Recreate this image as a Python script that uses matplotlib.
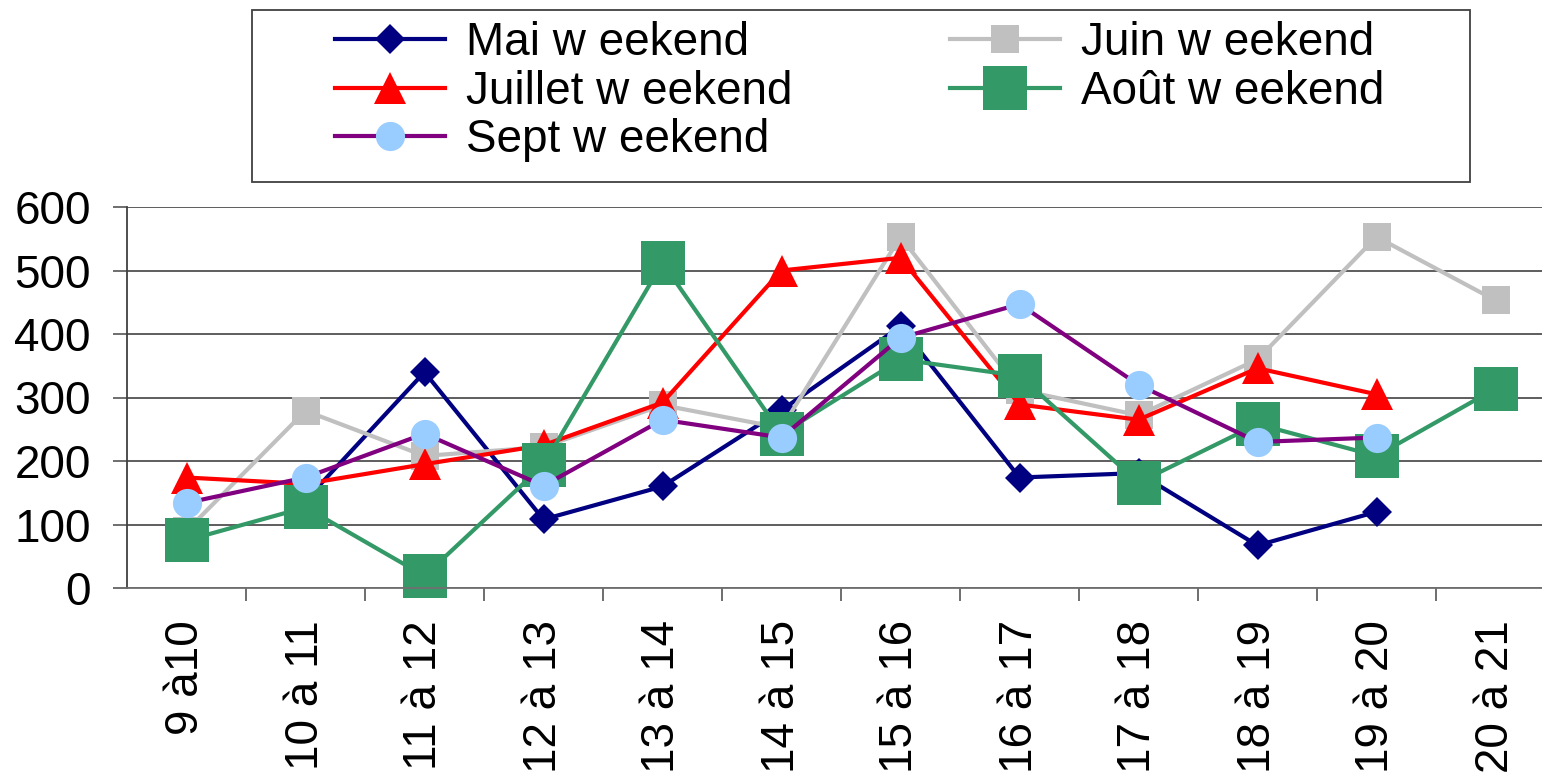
import numpy as np
import matplotlib
matplotlib.use("Agg")
import matplotlib.pyplot as plt
from matplotlib.patches import Rectangle

plt.rcParams['font.family'] = ['Liberation Sans', 'DejaVu Sans']

# tranches horaires
heures = ["9 à10", "10 à 11", "11 à 12", "12 à 13", "13 à 14", "14 à 15",
          "15 à 16", "16 à 17", "17 à 18", "18 à 19", "19 à 20", "20 à 21"]

nan = np.nan
mai = [nan, 138, 340, 108, 160, 280, 412, 174, 181, 67, 120, nan]
juin = [90, 279, 208, 222, 288, 252, 553, 312, 272, 360, 553, 453]
juillet = [174, 164, 195, 225, 292, 500, 520, 289, 265, 346, 305, nan]
aout = [75, 127, 19, 194, 512, 243, 360, 334, 166, 258, 208, 314]
sept = [134, 174, 243, 161, 265, 237, 394, 447, 320, 230, 237, nan]

W, H = 1542, 775
fig = plt.figure(figsize=(W / 100, H / 100), dpi=100)
# la zone de tracé déborde un peu à droite comme dans l'original
ax = fig.add_axes([127 / W, 1 - 588 / H, (1555 - 127) / W, (588 - 207) / H])

x = np.arange(len(heures))
l1, = ax.plot(x, mai, color='#000080', lw=3, marker='D', ms=15, mew=0,
              label='Mai w eekend')
l2, = ax.plot(x, juin, color='#C0C0C0', lw=3, marker='s', ms=20, mew=0,
              label='Juin w eekend')
l3, = ax.plot(x, juillet, color='#FF0000', lw=3, marker='^', ms=23, mew=0,
              label='Juillet w eekend')
l4, = ax.plot(x, aout, color='#339966', lw=3, marker='s', ms=31, mew=0,
              label='Août w eekend')
l5, = ax.plot(x, sept, color='#800080', lw=3, marker='o', ms=21, mew=0,
              markerfacecolor='#99CCFF', label='Sept w eekend')
for l in (l1, l2, l3, l4, l5):
    l.set_clip_on(False)

ax.set_xlim(-0.5, len(heures) - 0.5)
ax.set_ylim(0, 600)
ax.set_yticks(range(0, 601, 100))
ax.set_xticks(x)
ax.set_xticklabels(heures, rotation=90, va='top', ha='center')
ax.set_xticks(np.arange(0.5, len(heures) - 0.5, 1), minor=True)
ax.tick_params(axis='x', which='major', length=0, pad=23, labelsize=33)
ax.tick_params(axis='x', which='minor', length=9, width=1.2, color='#555555')
ax.tick_params(axis='y', length=10, width=1.2, color='#555555', pad=16,
               labelsize=33)

ax.grid(axis='y', color='#505050', lw=1.3)
ax.set_axisbelow(True)
for s in ('top', 'right'):
    ax.spines[s].set_visible(False)
ax.spines['left'].set_color('#404040')
ax.spines['bottom'].set_color('#707070')
ax.spines['left'].set_linewidth(1.3)
ax.spines['bottom'].set_linewidth(1.3)

# cadre de la légende
fig.patches.append(Rectangle((252 / W, 1 - 182 / H), (1470 - 252) / W,
                             (182 - 10) / H, transform=fig.transFigure,
                             fill=False, edgecolor='#404040', lw=1.3))
fig.legend(handles=[l1, l3, l5, l2, l4], ncol=2, loc='upper left',
           bbox_to_anchor=(335 / W, 1 - 21 / H), frameon=False,
           fontsize=33, borderaxespad=0, borderpad=0, labelspacing=0.1,
           handlelength=2.4, handletextpad=0.45, columnspacing=3.45)

fig.savefig('out.png', dpi=100)
